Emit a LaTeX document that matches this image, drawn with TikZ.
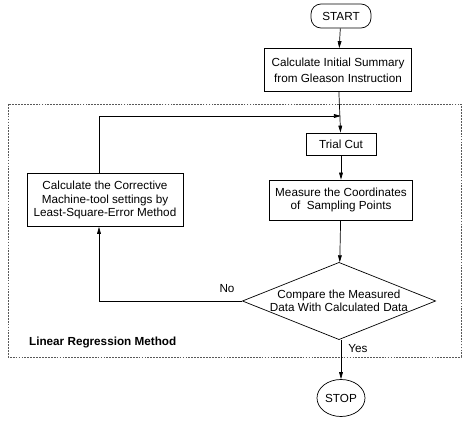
\documentclass[tikz,border=0pt]{standalone}
\usepackage{fontspec}
\setmainfont{Liberation Sans}
\usetikzlibrary{arrows.meta, positioning, shapes.geometric}

\tikzset{
  procbox/.style={draw, line width=0.6pt, align=center, inner sep=1pt,
    font=\fontsize{10}{11.5}\selectfont},
  termbox/.style={procbox, rounded corners=0.3cm},
  decbox/.style={procbox, diamond, aspect=2.5, inner sep=0pt},
  flow/.style={line width=0.6pt, -{Triangle[length=6pt,width=3.2pt]}},
  line/.style={line width=0.6pt},
  lbl/.style={font=\fontsize{10}{11.5}\selectfont}
}

\begin{document}
\begin{tikzpicture}[x=0.03cm, y=-0.03cm]
\useasboundingbox (0,0) rectangle (474,426);

% dashed frame
\draw[gray!70!black, line width=0.5pt, dash pattern=on 1.5pt off 1pt] (8,104) rectangle (461,357);
\node[lbl, font=\fontsize{10}{11.5}\selectfont\bfseries, anchor=west] (lrm) at (25,342) {Linear Regression Method};

% nodes
\node[termbox, minimum width=1.8cm, minimum height=0.72cm] (start) at (341,16) {START};
\node[procbox, minimum width=4.4cm, minimum height=1.29cm] (init) at (338,70)
  {Calculate Initial Summary\\[2pt] from Gleason Instruction};
\node[procbox, minimum width=2.1cm, minimum height=0.66cm] (trial) at (341,144) {Trial Cut};
\node[procbox, minimum width=4.29cm, minimum height=1.2cm] (measure) at (341,200)
  {Measure the Coordinates\\ of~~Sampling Points};
\node[decbox, minimum width=5.7cm, minimum height=2.28cm] (cmp) at (339,301)
  {Compare the Measured\\ Data With Calculated Data};
\node[procbox, minimum width=4.68cm, minimum height=1.59cm] (corr) at (105,200)
  {Calculate the Corrective\\ Machine-tool settings by\\ Least-Square-Error Method};
\node[procbox, ellipse, inner sep=0pt, minimum width=1.44cm, minimum height=1.11cm] (stop) at (341,398) {STOP};

% loop corners
\coordinate (loopbot) at (99,301);
\coordinate (looptop) at (99,116);
\coordinate (join) at (341,116);

% connectors
\draw[flow] (start) -- (init);
\draw[flow] (init) -- (trial);
\draw[flow] (trial) -- (measure);
\draw[flow] (measure) -- (cmp);
\draw[flow] (cmp.west) -- (loopbot) -- (loopbot |- corr.south);
\draw[flow] (loopbot |- corr.north) -- (looptop) -- (join);
\draw[flow] (cmp.south -| stop) -- (stop);

\node[lbl] (no) at (227,289) {No};
\node[lbl] (yes) at (358,349) {Yes};
\end{tikzpicture}
\end{document}
